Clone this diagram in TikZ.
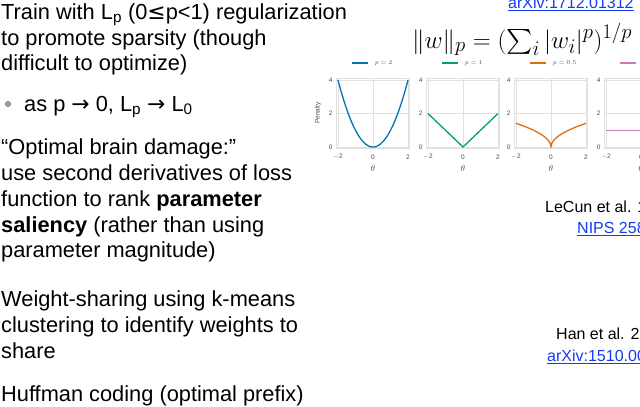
\documentclass[tikz,border=0pt]{standalone}
\usepackage{fontspec}
\setmainfont{Liberation Sans}
\newfontfamily\dvs{DejaVu Sans}
\usepackage{amsmath}
\definecolor{linkblue}{RGB}{20,60,240}
\definecolor{cbblue}{RGB}{1,115,178}
\definecolor{cbgreen}{RGB}{2,158,115}
\definecolor{cborange}{RGB}{222,110,20}
\definecolor{cbpink}{RGB}{204,120,188}
\definecolor{gridgray}{RGB}{225,225,225}
\newcommand{\sub}[1]{\textsubscript{#1}}
\tikzset{
  txt/.style={anchor=base west,inner sep=0pt,font=\fontsize{21.8}{24}\selectfont},
  ref/.style={anchor=base west,inner sep=0pt,font=\fontsize{16}{18}\selectfont},
  link/.style={ref,text=linkblue},
  tick/.style={inner sep=0pt,font=\fontsize{6.5}{7}\selectfont,text=black!70},
  gridl/.style={gridgray,line width=0.7pt},
  curve/.style={line width=1.3pt}
}
\newcommand{\panel}[4]{%
\begin{scope}[x=17.5pt,y=16.75pt,shift={(#1,-147pt)}]
 \foreach \g/\lab in {-2/$-$2,0/0,2/2}{\draw[gridl] (\g,-0.1)--(\g,4.1); \node[tick] at (\g,-0.6) {\lab};}
 \foreach \g in {0,2,4}{\draw[gridl] (-2.1,\g)--(2.1,\g); \node[tick,anchor=east] at (-2.3,\g) {\g};}
 \draw[gridl] (-2.1,-0.1) rectangle (2.1,4.1);
 \node[tick,font=\fontsize{9}{9}\selectfont] at (0,-1.25) {$\theta$};
 \draw[#2,curve] plot[domain=-2:2,samples=81,smooth] (\x,{#3});
 \fill[#2] (-1.2,4.95) rectangle (-0.3,5.05);
 \node[tick,anchor=west] at (0.1,5.0) {#4};
\end{scope}}
\begin{document}
\begin{tikzpicture}
\useasboundingbox (0,0) rectangle (640pt,-407pt);
\clip (0,0) rectangle (640pt,-407pt);
\node[txt] (l1) at (1pt,-19pt) {Train with L\sub{p} (0{\dvs≤}p<1) regularization};
\node[txt] (l2) at (1pt,-45pt) {to promote sparsity (though};
\node[txt] (l3) at (1pt,-70pt) {difficult to optimize)};
\node[circle,fill=black!40,inner sep=2.2pt] (b1) at (8pt,-104pt) {};
\node[txt] (l4) at (24pt,-111pt) {as p {\dvs→} 0, L\sub{p} {\dvs→} L\sub{0}};
\node[txt] (l5) at (1pt,-154pt) {“Optimal brain damage:”};
\node[txt] (l6) at (1pt,-180pt) {use second derivatives of loss};
\node[txt] (l7) at (1pt,-206pt) {function to rank \textbf{parameter}};
\node[txt] (l8) at (1pt,-232pt) {\textbf{saliency} (rather than using};
\node[txt] (l9) at (1pt,-257pt) {parameter magnitude)};
\node[txt] (l10) at (1pt,-306pt) {Weight-sharing using k-means};
\node[txt] (l11) at (1pt,-332pt) {clustering to identify weights to};
\node[txt] (l12) at (1pt,-358pt) {share};
\node[txt] (l13) at (1pt,-401pt) {Huffman coding (optimal prefix)};
% refs
\node[link] (r1) at (508pt,-8pt) {\underline{arXiv:1712.01312}};
\node[anchor=base west,inner sep=0pt,font=\fontsize{31}{34}\selectfont] (f) at (412pt,-48pt) {$\|w\|_p=(\sum_i |w_i|^p)^{1/p}$};
\node[ref] (r2) at (545pt,-212pt) {LeCun et al. 1990};
\node[link] (r3) at (577pt,-233pt) {\underline{NIPS 2589}};
\node[ref] (r4) at (556pt,-339pt) {Han et al. 2015};
\node[link] (r5) at (547pt,-361pt) {\underline{arXiv:1510.00149}};
% plots
\panel{373pt}{cbblue}{\x*\x}{$p=2$}
\panel{463pt}{cbgreen}{abs(\x)}{$p=1$}
\panel{551pt}{cborange}{sqrt(abs(\x))}{$p=0.5$}
\panel{641pt}{cbpink}{1}{$p=0$}
\node[tick,rotate=90] (pen) at (318pt,-113pt) {Penalty};
\end{tikzpicture}
\end{document}
